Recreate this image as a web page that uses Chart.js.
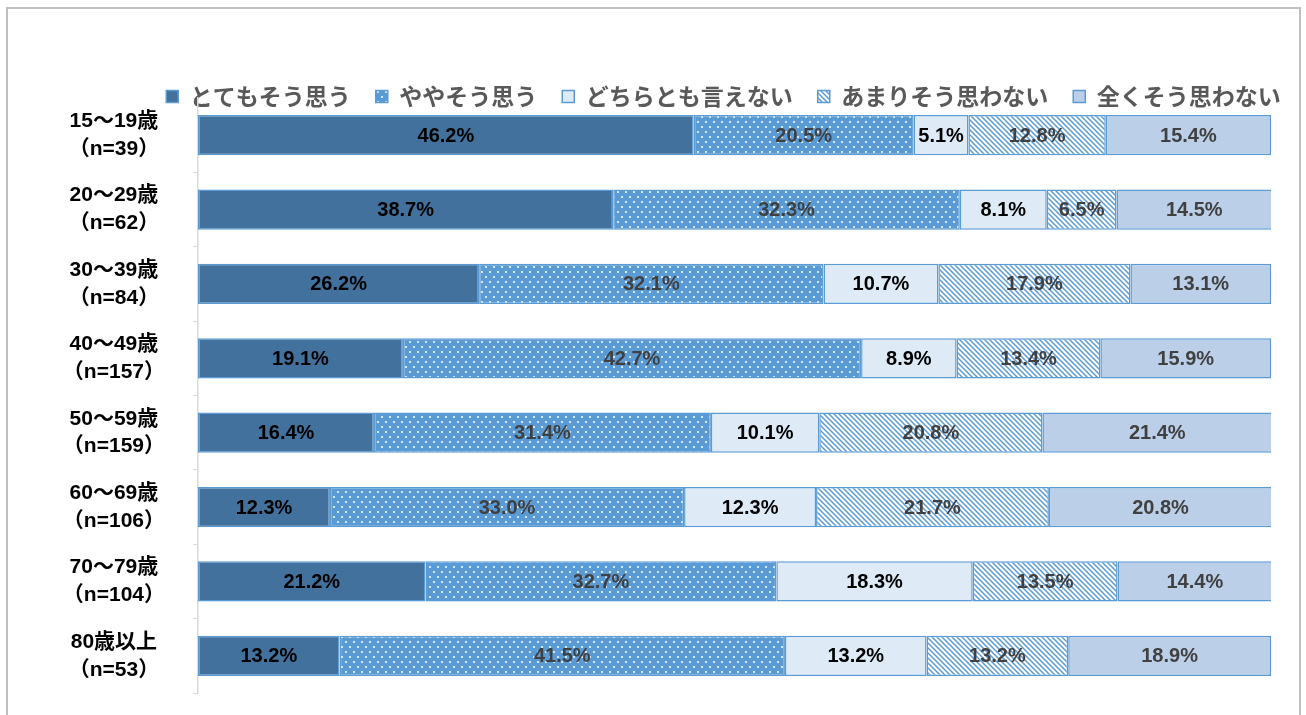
<!DOCTYPE html>
<html lang="ja">
<head>
<meta charset="utf-8">
<title>年代別 回答割合</title>
<script src="https://cdn.jsdelivr.net/npm/chart.js@4.4.1/dist/chart.umd.min.js"></script>
<style>
    html, body { margin: 0; padding: 0; background: #fff; overflow: hidden; }
    #wrap { position: relative; width: 1306px; height: 715px; }
    #frame {
        position: absolute; left: 6px; top: 7px; width: 1295px; height: 720px;
        border: 2px solid #BFBFBF; border-bottom: none; box-sizing: border-box;
    }
    canvas { position: absolute; left: 0; top: 0; }
</style>
</head>
<body>
<div id="wrap">
    <div id="frame"></div>
    <canvas id="chart" width="1306" height="715"></canvas>
</div>
<script>
// Age groups (two-line labels)
const AGE_GROUPS = [
    ['15～19歳', '（n=39）'],
    ['20～29歳', '（n=62）'],
    ['30～39歳', '（n=84）'],
    ['40～49歳', '（n=157）'],
    ['50～59歳', '（n=159）'],
    ['60～69歳', '（n=106）'],
    ['70～79歳', '（n=104）'],
    ['80歳以上', '（n=53）']
];

// Answer categories
const ANSWERS = ['とてもそう思う', 'ややそう思う', 'どちらとも言えない', 'あまりそう思わない', '全くそう思わない'];

// Percentages per answer, one value per age group
const VERY_MUCH    = [46.2, 38.7, 26.2, 19.1, 16.4, 12.3, 21.2, 13.2];
const SOMEWHAT     = [20.5, 32.3, 32.1, 42.7, 31.4, 33.0, 32.7, 41.5];
const NEUTRAL      = [5.1, 8.1, 10.7, 8.9, 10.1, 12.3, 18.3, 13.2];
const NOT_MUCH     = [12.8, 6.5, 17.9, 13.4, 20.8, 21.7, 13.5, 13.2];
const NOT_AT_ALL   = [15.4, 14.5, 13.1, 15.9, 21.4, 20.8, 14.4, 18.9];

const BLUE = '#5B9BD5';

// White dots on blue
function dotPattern() {
    const c = document.createElement('canvas');
    c.width = 8; c.height = 10;
    const g = c.getContext('2d');
    g.fillStyle = BLUE;
    g.fillRect(0, 0, 8, 10);
    g.fillStyle = 'rgba(255,255,255,0.75)';
    g.fillRect(1, 1, 2, 2);
    g.fillRect(5, 6, 2, 2);
    return g.createPattern(c, 'repeat');
}

// Blue downward diagonals on white
function hatchPattern() {
    const s = 5;
    const c = document.createElement('canvas');
    c.width = s; c.height = s;
    const g = c.getContext('2d');
    g.fillStyle = '#ffffff';
    g.fillRect(0, 0, s, s);
    g.strokeStyle = BLUE;
    g.lineWidth = 1.5;
    g.beginPath();
    g.moveTo(-1, -1); g.lineTo(s + 1, s + 1);
    g.moveTo(-1, s - 1); g.lineTo(1, s + 1);
    g.moveTo(s - 1, -1); g.lineTo(s + 1, 1);
    g.stroke();
    return g.createPattern(c, 'repeat');
}

const SERIES = [
    { data: VERY_MUCH,  fill: '#41719C',      labelColor: '#000000' },
    { data: SOMEWHAT,   fill: dotPattern(),   labelColor: '#404040' },
    { data: NEUTRAL,    fill: '#DEEBF7',      labelColor: '#000000' },
    { data: NOT_MUCH,   fill: hatchPattern(), labelColor: '#404040' },
    { data: NOT_AT_ALL, fill: '#BCCFE9',      labelColor: '#404040' }
];

// Percent labels in the middle of each segment
const segmentLabels = {
    id: 'segmentLabels',
    afterDatasetsDraw(chart) {
        const ctx = chart.ctx;
        ctx.save();
        ctx.font = 'bold 20px "Liberation Sans", sans-serif';
        ctx.textAlign = 'center';
        ctx.textBaseline = 'middle';
        chart.data.datasets.forEach((ds, i) => {
            ctx.fillStyle = SERIES[i].labelColor;
            chart.getDatasetMeta(i).data.forEach((bar, j) => {
                const p = bar.getProps(['x', 'y', 'base'], true);
                ctx.fillText(ds.data[j].toFixed(1) + '%', (p.x + p.base) / 2, p.y + 1);
            });
        });
        ctx.restore();
    }
};

// Legend: short layout box so it overlaps the top of the plot, shifted right
const LEGEND_SHIFT = 78;
const tightLegend = {
    id: 'tightLegend',
    beforeInit(chart) {
        const fit = chart.legend.fit;
        chart.legend.fit = function () {
            fit.call(this);
            this.height = 38;
        };
    },
    afterLayout(chart) {
        const lg = chart.legend;
        lg.left += LEGEND_SHIFT;
        lg.right += LEGEND_SHIFT;
        lg.bottom = lg.top + 60;
    }
};

new Chart(document.getElementById('chart'), {
    type: 'bar',
    data: {
        labels: AGE_GROUPS,
        datasets: SERIES.map((s, i) => ({
            label: ANSWERS[i],
            data: s.data,
            backgroundColor: s.fill,
            borderColor: BLUE,
            borderWidth: 1.5,
            borderSkipped: false,
            categoryPercentage: 1,
            barPercentage: 0.54
        }))
    },
    options: {
        indexAxis: 'y',
        responsive: false,
        animation: false,
        layout: { padding: { left: 20, right: 35, top: 60, bottom: 22 } },
        scales: {
            x: {
                stacked: true,
                min: 0,
                max: 100,
                display: false
            },
            y: {
                stacked: true,
                afterFit(scale) {
                    scale.width = 178;
                    scale.paddingTop = 0;
                    scale.paddingBottom = 0;
                },
                border: { display: true, color: '#D9D9D9', width: 1.5 },
                grid: {
                    offset: true,
                    drawOnChartArea: false,
                    drawTicks: true,
                    tickLength: 5,
                    color: '#D9D9D9'
                },
                ticks: {
                    crossAlign: 'center',
                    padding: 28,
                    color: '#000000',
                    font: { family: '"Liberation Sans", "Noto Sans CJK JP", sans-serif', size: 21, weight: 'bold', lineHeight: 1.33 }
                }
            }
        },
        plugins: {
            legend: {
                position: 'top',
                labels: {
                    boxWidth: 12,
                    boxHeight: 12,
                    padding: 25,
                    color: '#595959',
                    font: { family: '"Noto Sans CJK JP", sans-serif', size: 23, weight: 'bold' }
                }
            },
            tooltip: { enabled: false }
        }
    },
    plugins: [segmentLabels, tightLegend]
});
</script>
</body>
</html>
